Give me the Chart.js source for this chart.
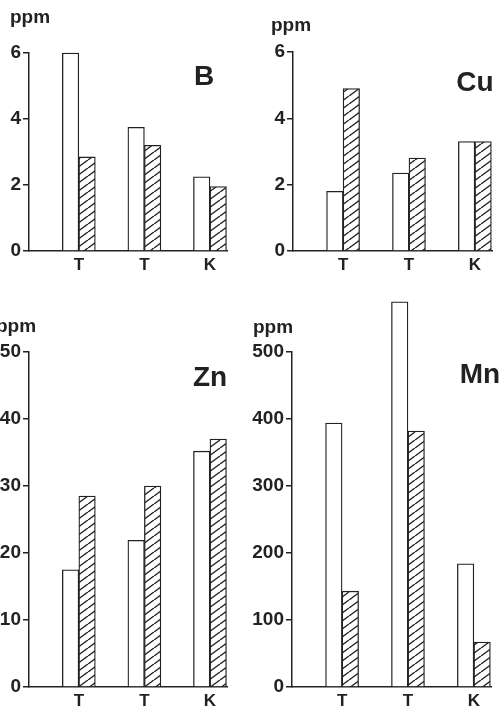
<!DOCTYPE html>
<html>
<head>
<meta charset="utf-8">
<script src="https://cdn.jsdelivr.net/npm/chart.js@4.4.1/dist/chart.umd.min.js"></script>
<style>
  body { margin: 0; background: #fff; }
  #wrap { position: relative; width: 502px; height: 707px; overflow: hidden; }
  canvas { position: absolute; }
</style>
</head>
<body>
<div id="wrap">
  <canvas id="cB" width="250" height="280" style="left:0;top:0"></canvas>
  <canvas id="cCu" width="252" height="280" style="left:250px;top:0"></canvas>
  <canvas id="cZn" width="250" height="427" style="left:0;top:280px"></canvas>
  <canvas id="cMn" width="252" height="427" style="left:250px;top:280px"></canvas>
</div>
<script>
var categories = ['T', 'T', 'K'];
var elements = ['B', 'Cu', 'Zn', 'Mn'];

// open bars / hatched bars, ppm
var bOpen = [6.0, 3.75, 2.25];
var bHatched = [2.85, 3.2, 1.95];
var cuOpen = [1.8, 2.35, 3.3];
var cuHatched = [4.9, 2.8, 3.3];
var znOpen = [17.5, 21.9, 35.2];
var znHatched = [28.5, 30.0, 37.0];
var mnOpen = [394, 575, 184];
var mnHatched = [143, 382, 67];

var bTicks = [0, 2, 4, 6];
var cuTicks = [0, 2, 4, 6];
var znTicks = [0, 10, 20, 30, 40, 50];
var mnTicks = [0, 100, 200, 300, 400, 500];

var ink = '#222';
var fam = '"Liberation Sans", Arial, Helvetica, sans-serif';

function hatch() {
  var w = 11, h = 8;
  var c = document.createElement('canvas');
  c.width = w; c.height = h;
  var g = c.getContext('2d');
  g.fillStyle = '#fff';
  g.fillRect(0, 0, w, h);
  g.strokeStyle = ink;
  g.lineWidth = 1.4;
  g.beginPath();
  g.moveTo(0, h); g.lineTo(w, 0);
  g.moveTo(-w, h); g.lineTo(0, 0);
  g.moveTo(w, h); g.lineTo(2 * w, 0);
  g.stroke();
  return g.createPattern(c, 'repeat');
}

var panelText = {
  id: 'panelText',
  afterDraw(chart, args, o) {
    var a = chart.chartArea, ctx = chart.ctx;
    ctx.save();
    ctx.fillStyle = ink;
    ctx.font = 'bold 19px ' + fam;
    ctx.textAlign = 'left';
    ctx.textBaseline = 'alphabetic';
    ctx.fillText('ppm', a.left + o.ppm[0], a.top + o.ppm[1]);
    ctx.font = 'bold 28px ' + fam;
    ctx.textAlign = 'center';
    ctx.textBaseline = 'middle';
    ctx.fillText(o.name, a.right + o.at[0], a.top + o.at[1]);
    ctx.restore();
  }
};

function toPts(arr) {
  return arr.map(function (v, i) { return { x: i, y: v }; });
}

function panel(id, name, open, hatched, ticks, p) {
  new Chart(document.getElementById(id), {
    type: 'bar',
    data: {
      datasets: [
        { data: toPts(open), backgroundColor: '#fff', borderColor: ink, borderWidth: 1.3,
          barThickness: 16.5, clip: false },
        { data: toPts(hatched), backgroundColor: hatch(), borderColor: ink, borderWidth: 1.3,
          barThickness: 16.5, clip: false }
      ]
    },
    options: {
      responsive: false,
      animation: false,
      layout: { padding: { top: p.top, right: p.right, left: 0, bottom: 0 } },
      plugins: {
        legend: { display: false },
        tooltip: { enabled: false },
        panelText: { name: name, ppm: p.ppm, at: p.at }
      },
      scales: {
        x: {
          type: 'linear', min: -0.76, max: 2.26, offset: false,
          grid: { display: false, drawTicks: false, offset: false },
          border: { color: ink, width: 1.5 },
          afterBuildTicks: function (s) { s.ticks = categories.map(function (c, i) { return { value: i }; }); },
          afterFit: function (s) { s.height = p.xh; },
          ticks: {
            callback: function (v) { return categories[v]; },
            padding: 4, color: ink, maxRotation: 0, autoSkip: false,
            font: { family: fam, size: 17, weight: 'bold' }
          }
        },
        y: {
          min: ticks[0], max: ticks[ticks.length - 1],
          afterBuildTicks: function (s) { s.ticks = ticks.map(function (v) { return { value: v }; }); },
          afterFit: function (s) { s.width = p.yw; },
          grid: { drawOnChartArea: false, drawTicks: true, tickLength: 6, color: ink, lineWidth: 1.5 },
          border: { color: ink, width: 1.5 },
          ticks: { padding: 2, color: ink, font: { family: fam, size: 19, weight: 'bold' } }
        }
      }
    },
    plugins: [panelText]
  });
}

panel('cB', elements[0], bOpen, bHatched, bTicks,
  { top: 53, right: 23, yw: 29, xh: 29, ppm: [-19, -30], at: [-23, 24] });
panel('cCu', elements[1], cuOpen, cuHatched, cuTicks,
  { top: 52, right: 10, yw: 43, xh: 29, ppm: [-22, -21], at: [-17, 31] });
panel('cZn', elements[2], znOpen, znHatched, znTicks,
  { top: 72, right: 23, yw: 29, xh: 20, ppm: [-33, -20], at: [-17, 26] });
panel('cMn', elements[3], mnOpen, mnHatched, mnTicks,
  { top: 72, right: 11, yw: 42, xh: 20, ppm: [-39, -19], at: [-11, 23] });
</script>
</body>
</html>
